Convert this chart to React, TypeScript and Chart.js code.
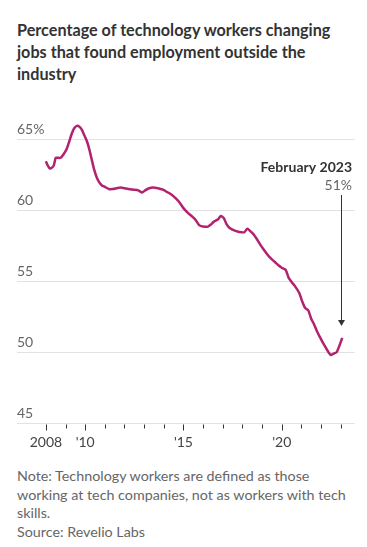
import React, { useEffect, useRef } from "react";
import { Chart, registerables } from "chart.js";

Chart.register(...registerables);

const titleLines: string[] = [
  "Percentage of technology workers changing",
  "jobs that found employment outside the",
  "industry",
];
const noteLines: string[] = [
  "Note: Technology workers are defined as those",
  "working at tech companies, not as workers with tech",
  "skills.",
  "Source: Revelio Labs",
];

const years: number[] = [
  2008.0, 2008.1, 2008.2, 2008.3, 2008.4, 2008.5, 2008.6, 2008.75, 2008.9, 2009.05,
  2009.2, 2009.33, 2009.45, 2009.58, 2009.7, 2009.84, 2009.95, 2010.08, 2010.2, 2010.33,
  2010.45, 2010.58, 2010.7, 2010.85, 2011.0, 2011.2, 2011.4, 2011.6, 2011.8, 2012.0,
  2012.2, 2012.45, 2012.7, 2012.9, 2013.05, 2013.25, 2013.45, 2013.7, 2013.95, 2014.15,
  2014.4, 2014.6, 2014.8, 2015.0, 2015.2, 2015.45, 2015.6, 2015.8, 2016.0, 2016.25,
  2016.4, 2016.55, 2016.75, 2016.9, 2017.05, 2017.2, 2017.35, 2017.55, 2017.75, 2017.95,
  2018.1, 2018.25, 2018.5, 2018.7, 2018.9, 2019.1, 2019.28, 2019.45, 2019.65, 2019.85,
  2020.0, 2020.2, 2020.35, 2020.5, 2020.7, 2020.9, 2021.05, 2021.2, 2021.35, 2021.5,
  2021.65, 2021.8, 2021.95, 2022.1, 2022.25, 2022.4, 2022.5, 2022.65, 2022.8, 2022.95,
  2023.08,
];
const values: number[] = [
  63.45, 63.15, 62.95, 63.0, 63.15, 63.7, 63.7, 63.7, 63.95, 64.3,
  64.9, 65.45, 65.8, 65.95, 65.9, 65.65, 65.3, 64.9, 64.35, 63.6,
  62.9, 62.35, 62.0, 61.75, 61.65, 61.5, 61.5, 61.55, 61.6, 61.55,
  61.5, 61.45, 61.4, 61.25, 61.4, 61.55, 61.6, 61.55, 61.45, 61.3,
  61.1, 60.85, 60.55, 60.15, 59.85, 59.55, 59.35, 58.95, 58.85, 58.85,
  59.0, 59.2, 59.35, 59.6, 59.45, 59.0, 58.75, 58.6, 58.5, 58.45,
  58.45, 58.7, 58.4, 58.05, 57.6, 57.2, 56.87, 56.6, 56.35, 56.1,
  55.95, 55.8, 55.25, 54.95, 54.6, 54.15, 53.55, 53.1, 52.95, 52.35,
  51.95, 51.45, 51.05, 50.65, 50.3, 49.95, 49.8, 49.9, 50.0, 50.5,
  51.0,
];

const yTicks: number[] = [45, 50, 55, 60, 65];
const yTickLabels: string[] = ["45", "50", "55", "60", "65%"];
const xTickYears: number[] = [
  2008, 2009, 2010, 2011, 2012, 2013, 2014, 2015, 2016, 2017, 2018, 2019, 2020, 2021, 2022, 2023,
];
const xMajorYears: number[] = [2008, 2010, 2015, 2020];
const xMajorLabels: string[] = ["2008", "'10", "'15", "'20"];

const annotationTitle = "February 2023";
const annotationValue = "51%";

const FONT = "Lato, 'Noto Sans', sans-serif";

const customAxes = {
  id: "customAxes",
  beforeDatasetsDraw(chart: any) {
    const { ctx, chartArea, scales } = chart;
    const y = scales.y;
    ctx.save();
    ctx.lineWidth = 1;
    ctx.strokeStyle = "#e2e2e2";
    yTicks.forEach((v) => {
      const py = Math.round(y.getPixelForValue(v)) + 0.5;
      ctx.beginPath();
      ctx.moveTo(chartArea.left, py);
      ctx.lineTo(chartArea.right, py);
      ctx.stroke();
    });
    ctx.restore();
  },
  afterDraw(chart: any) {
    const { ctx, chartArea, scales } = chart;
    const x = scales.x;
    const y = scales.y;
    ctx.save();
    ctx.font = `14px ${FONT}`;
    ctx.fillStyle = "#666666";
    ctx.textAlign = "left";
    ctx.textBaseline = "alphabetic";
    yTicks.forEach((v, i) => {
      const py = y.getPixelForValue(v);
      ctx.fillText(yTickLabels[i], chartArea.left, py - 5);
    });
    const base = Math.round(y.getPixelForValue(45)) + 0.5;
    ctx.strokeStyle = "#333333";
    ctx.lineWidth = 1;
    xTickYears.forEach((yr) => {
      const px = Math.round(x.getPixelForValue(yr)) + 0.5;
      const major = xMajorYears.includes(yr);
      ctx.beginPath();
      ctx.moveTo(px, base + 1);
      ctx.lineTo(px, base + (major ? 7 : 5));
      ctx.stroke();
    });
    ctx.fillStyle = "#444444";
    ctx.textAlign = "center";
    xMajorYears.forEach((yr, i) => {
      const px = x.getPixelForValue(yr);
      ctx.fillText(xMajorLabels[i], px, base + 23);
    });
    const lastX = x.getPixelForValue(years[years.length - 1]);
    const lastY = y.getPixelForValue(values[values.length - 1]);
    const tx = chartArea.right - 3;
    ctx.textAlign = "right";
    ctx.fillStyle = "#333333";
    ctx.font = `bold 14px ${FONT}`;
    ctx.fillText(annotationTitle, tx, chartArea.top + 60.5);
    ctx.font = `14px ${FONT}`;
    ctx.fillStyle = "#666666";
    ctx.fillText(annotationValue, tx, chartArea.top + 79);
    const ax = Math.round(lastX) - 0.5;
    const tipY = lastY - 12;
    ctx.strokeStyle = "#333333";
    ctx.lineWidth = 1;
    ctx.beginPath();
    ctx.moveTo(ax, chartArea.top + 84);
    ctx.lineTo(ax, tipY - 4);
    ctx.stroke();
    ctx.fillStyle = "#333333";
    ctx.beginPath();
    ctx.moveTo(ax - 3.5, tipY - 6);
    ctx.lineTo(ax + 3.5, tipY - 6);
    ctx.lineTo(ax, tipY);
    ctx.closePath();
    ctx.fill();
    ctx.restore();
  },
};

export default function App() {
  const ref = useRef<HTMLCanvasElement | null>(null);
  useEffect(() => {
    if (!ref.current) return;
    const chart = new Chart(ref.current, {
      type: "line",
      data: {
        datasets: [
          {
            data: years.map((yr, i) => ({ x: yr, y: values[i] })),
            borderColor: "#b2226f",
            borderWidth: 2.5,
            pointRadius: 0,
            tension: 0.2,
            fill: false,
          },
        ],
      },
      options: {
        animation: false,
        responsive: false,
        devicePixelRatio: 1,
        layout: { padding: { left: 17, right: 12, top: 11, bottom: 37 } },
        plugins: { legend: { display: false }, tooltip: { enabled: false } },
        scales: {
          x: { type: "linear", min: 2006.53, max: 2023.73, display: false },
          y: { type: "linear", min: 45, max: 67, display: false },
        },
      },
      plugins: [customAxes],
    });
    return () => chart.destroy();
  }, []);

  return (
    <div style={{ position: "absolute", left: 0, top: 0, width: 367, height: 547, background: "#fff" }}>
      <div
        style={{
          position: "absolute",
          left: 17,
          top: 19,
          fontFamily: FONT,
          fontWeight: 700,
          fontSize: 16.2,
          lineHeight: "22px",
          color: "#333333",
          whiteSpace: "nowrap",
        }}
      >
        {titleLines.map((l, i) => (
          <div key={i}>{l}</div>
        ))}
      </div>
      <canvas
        ref={ref}
        width={367}
        height={360}
        style={{ position: "absolute", left: 0, top: 100, width: 367, height: 360 }}
      />
      <div
        style={{
          position: "absolute",
          left: 17,
          top: 467,
          fontFamily: FONT,
          fontWeight: 400,
          fontSize: 14.3,
          lineHeight: "18.7px",
          color: "#666666",
          whiteSpace: "nowrap",
        }}
      >
        {noteLines.map((l, i) => (
          <div key={i}>{l}</div>
        ))}
      </div>
    </div>
  );
}
